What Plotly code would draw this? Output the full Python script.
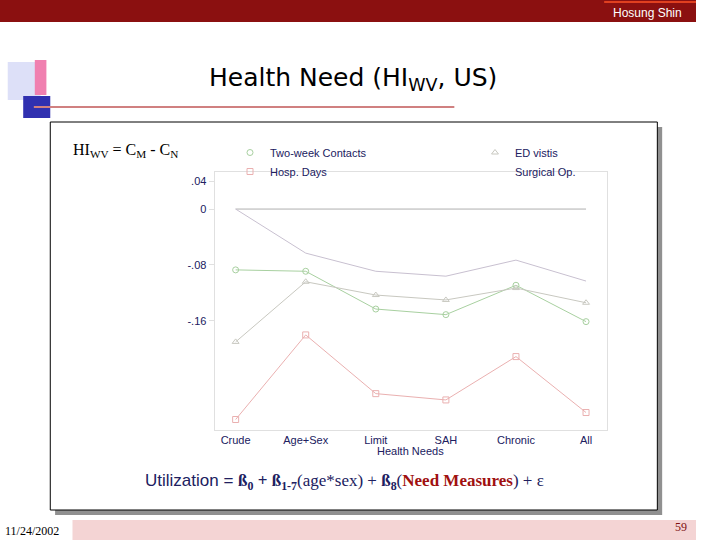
import plotly.graph_objects as go

categories = ["Crude", "Age+Sex", "Limit", "SAH", "Chronic", "All"]
two_week = [-0.087, -0.089, -0.143, -0.151, -0.109, -0.161]
ed_visits = [-0.190, -0.104, -0.123, -0.130, -0.113, -0.134]
surgical = [0.0, -0.063, -0.089, -0.096, -0.073, -0.103]
hosp_days = [-0.301, -0.180, -0.264, -0.273, -0.211, -0.291]
zero_line = [0, 0, 0, 0, 0, 0]
yticks = [0.04, 0, -0.08, -0.16]
ylabels = [".04", "0", "-.08", "-.16"]

W, H = 720, 540
def px(x): return x / W
def py(y): return 1 - y / H

GREEN, GRAY, RED, PURP = "#a8d0a0", "#c8c8c0", "#eab0b0", "#c8c0d0"
fig = go.Figure()
fig.add_trace(go.Scatter(x=categories, y=zero_line, mode="lines", line=dict(color="#b0b0b0", width=1), showlegend=False))
fig.add_trace(go.Scatter(x=categories, y=two_week, mode="lines+markers", showlegend=False,
    line=dict(color=GREEN, width=1), marker=dict(symbol="circle-open", size=6, color=GREEN)))
fig.add_trace(go.Scatter(x=categories, y=ed_visits, mode="lines+markers", showlegend=False,
    line=dict(color=GRAY, width=1), marker=dict(symbol="triangle-up-open", size=6, color=GRAY)))
fig.add_trace(go.Scatter(x=categories, y=hosp_days, mode="lines+markers", showlegend=False,
    line=dict(color=RED, width=1), marker=dict(symbol="square-open", size=6, color=RED)))
fig.add_trace(go.Scatter(x=categories, y=surgical, mode="lines", showlegend=False,
    line=dict(color=PURP, width=1)))
for name, sym, col in [("Two-week Contacts", "circle-open", GREEN), ("ED vistis", "triangle-up-open", GRAY),
                       ("Hosp. Days", "square-open", RED), ("Surgical Op.", "circle-open", "rgba(0,0,0,0)")]:
    fig.add_trace(go.Scatter(x=[None], y=[None], mode="markers", name=name, marker=dict(symbol=sym, size=6, color=col)))

shapes = []
shapes.append(dict(type="rect", xref="paper", yref="paper", x0=0, x1=1, y0=py(22), y1=1, fillcolor="#8b1010", line_width=0, layer="below"))
shapes.append(dict(type="line", xref="paper", yref="paper", x0=px(625), x1=1, y0=py(2), y1=py(2), line=dict(color="#e04020", width=2)))
shapes.append(dict(type="rect", xref="paper", yref="paper", x0=px(8), x1=px(42), y0=py(100), y1=py(62), fillcolor="#dde0f8", line_width=0))
shapes.append(dict(type="rect", xref="paper", yref="paper", x0=px(36), x1=px(48), y0=py(95), y1=py(60), fillcolor="#f080b0", line_width=0))
shapes.append(dict(type="rect", xref="paper", yref="paper", x0=px(24), x1=px(52), y0=py(118), y1=py(96), fillcolor="#3030b0", line_width=0))
shapes.append(dict(type="line", xref="paper", yref="paper", x0=px(35), x1=px(470), y0=py(107), y1=py(107), line=dict(color="#d08080", width=2)))
shapes.append(dict(type="rect", xref="paper", yref="paper", x0=px(57), x1=px(685), y0=py(515), y1=py(127), fillcolor="#909090", line_width=0, layer="below"))
shapes.append(dict(type="rect", xref="paper", yref="paper", x0=px(52), x1=px(680), y0=py(510), y1=py(122), fillcolor="white", line=dict(color="black", width=1), layer="below"))
shapes.append(dict(type="rect", xref="paper", yref="paper", x0=px(75), x1=1, y0=0, y1=py(520), fillcolor="#f4d4d4", line_width=0, layer="below"))

def A(x, y, text, **kw):
    d = dict(x=px(x), y=py(y), xref="paper", yref="paper", text=text, showarrow=False, yanchor="middle")
    d.update(kw)
    return d

ann = [
    A(708, 13, "Hosung Shin", xanchor="right", font=dict(color="white", size=12, family="Arial")),
    A(365, 79, "Health Need (HI<sub>WV</sub>, US)", font=dict(size=25, family="Verdana, DejaVu Sans", color="black")),
    A(73, 150, "HI<sub>WV</sub> = C<sub>M</sub> - C<sub>N</sub>", xanchor="left", font=dict(size=16, family="Liberation Serif", color="black")),
    A(148, 482, "<span style='font-family:Arial'>Utilization = </span><b>ß<sub>0</sub> + ß<sub>1-7</sub></b>(age*sex) + <b>ß<sub>8</sub></b>(<b><span style='color:#a01010'>Need Measures</span></b>) + ε",
      xanchor="left", font=dict(size=17, family="Liberation Serif", color="#202060")),
    A(3, 531, "11/24/2002", xanchor="left", font=dict(size=12, family="Liberation Serif", color="black")),
    A(713, 527, "59", xanchor="right", font=dict(size=12, family="Liberation Serif", color="#801010")),
    A(425, 451, "Health Needs", font=dict(size=11, family="Arial", color="#202060")),
]

fig.update_layout(
    width=W, height=H, margin=dict(l=0, r=0, t=0, b=0),
    paper_bgcolor="white", plot_bgcolor="white",
    shapes=shapes, annotations=ann,
    legend=dict(x=px(238), y=py(138), xanchor="left", yanchor="top", orientation="h", entrywidth=200,
                font=dict(size=11, family="Arial", color="#202060"), bgcolor="rgba(0,0,0,0)", tracegroupgap=0),
    xaxis=dict(domain=[px(222), px(628)], range=[-0.3, 5.3], showgrid=False, showline=True, linecolor="#e0e0e0",
               ticks="", tickfont=dict(size=11, family="Arial", color="#202060"), mirror=True),
    yaxis=dict(domain=[py(430), py(172)], range=[-0.316, 0.053], tickvals=yticks, ticktext=ylabels,
               showgrid=False, zeroline=False, showline=True, linecolor="#e0e0e0", mirror=True,
               ticks="outside", tickcolor="#e0e0e0", tickfont=dict(size=11, family="Arial", color="#202060")),
)
fig.write_html("out.html", config={"displayModeBar": False}, post_script="document.body.style.margin='0px';")
